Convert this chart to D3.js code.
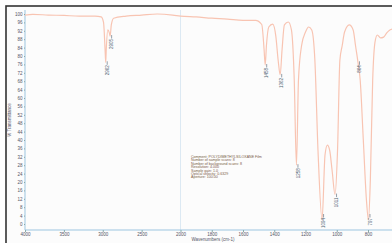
<!DOCTYPE html>
<html>
<head>
<meta charset="utf-8">
<script src="https://cdn.jsdelivr.net/npm/d3@7"></script>
<style>
	body { margin: 0; background: #fff; }
	svg { display: block; font-family: "Liberation Sans", Arial, sans-serif; }
</style>
</head>
<body>
<div id="chart"></div>
<script>
// spectrum (wavenumber cm-1, %T)
const wavenumbers = [4000, 3900, 3700, 3500, 3300, 3100, 3020, 2990, 2970, 2962, 2955, 2935, 2915, 2905, 2890, 2860, 2700, 2500, 2300, 2100, 2000,
	1900, 1800, 1700, 1600, 1520, 1480, 1465, 1458, 1450, 1435, 1410, 1390, 1375, 1362, 1350, 1335, 1310, 1290, 1272, 1258, 1245, 1225,
	1200, 1180, 1160, 1140, 1120, 1094, 1075, 1060, 1045, 1030, 1011, 995, 980, 965, 950, 920, 895, 880, 864, 850, 830, 810, 797, 785,
	770, 755, 740, 720, 700, 680, 660, 640];
const transmittance = [99.5, 99.8, 99.5, 99.3, 99, 99, 98.6, 96, 83, 77, 83, 92.4, 91, 89.5, 94.8, 98, 99, 99.5, 100, 99.5, 99,
	98.6, 98, 97.6, 97, 97, 95, 83, 75.7, 85, 93.8, 95.2, 89.5, 78, 71, 83, 94.8, 96.2, 92.4, 68.6, 28, 68.6, 85,
	91.4, 93.8, 92.4, 78, 35, 2, 33, 37.6, 35, 25.7, 14, 35, 78, 85, 91.4, 94.8, 92.4, 85, 77, 68.6, 40, 11.4, 2, 21,
	68.6, 86.7, 90, 88.6, 89, 91, 92.4, 92.9];

const peakLabels = [2962, 2905, 1458, 1362, 1258, 1094, 1011, 864, 797];
const xTicks = [4000, 3500, 3000, 2500, 2000, 1800, 1600, 1400, 1200, 1000, 800];
const yTicks = d3.range(0, 101, 4);
const infoLines = [
	"Comment: POLYDIMETHYLSILOXANE Film",
	"Number of sample scans:  8",
	"Number of background scans:  8",
	"Resolution:  4.000",
	"Sample gain:  1.0",
	"Optical velocity:  0.6329",
	"Aperture:  100.00"
];

const width = 392, height = 243;

const svg = d3.select("#chart").append("svg")
	.attr("width", width)
	.attr("height", height);

// outer frame (runs off the right and bottom of the crop)
svg.append("rect")
	.attr("x", 6).attr("y", 6)
	.attr("width", 400).attr("height", 250)
	.attr("fill", "#fcfcfc")
	.attr("stroke", "#333")
	.attr("stroke-width", 1.6);

// wavenumber axis expands below 2000
const x = d3.scaleLinear()
	.domain([4000, 2000, 640])
	.range([25, 180.5, 393]);

const y = d3.scaleLinear()
	.domain([0, 100])
	.range([224, 14]);

const axisY = 230;

// scale break line
svg.append("line")
	.attr("x1", x(2000)).attr("x2", x(2000))
	.attr("y1", 10).attr("y2", axisY)
	.attr("stroke", "#dce9f3")
	.attr("stroke-width", 1);

// axes
const gx = svg.append("g")
	.attr("transform", `translate(0,${axisY})`)
	.call(d3.axisBottom(x).tickValues(xTicks).tickSize(2).tickPadding(1).tickFormat(d3.format("d")));

const gy = svg.append("g")
	.attr("transform", `translate(${x(4000)},0)`)
	.call(d3.axisLeft(y).tickValues(yTicks).tickSize(1).tickPadding(1.5).tickFormat(d3.format("d")));

[gx, gy].forEach(g => {
	g.select(".domain").attr("stroke", "#9cc5e0").attr("stroke-width", 1);
	g.selectAll(".tick line").attr("stroke", "#8aa");
	g.selectAll(".tick text")
		.attr("fill", "#556")
		.style("font-size", "4.5px");
});
gx.select(".domain").attr("d", `M${x(4000)},0H${width}`);
gy.select(".domain").attr("d", `M0,10V${axisY}`);

svg.append("text")
	.attr("x", 213).attr("y", 240.5)
	.attr("text-anchor", "middle")
	.attr("fill", "#556")
	.style("font-size", "4.5px")
	.text("Wavenumbers (cm-1)");

svg.append("text")
	.attr("transform", "translate(11,120) rotate(-90)")
	.attr("text-anchor", "middle")
	.attr("fill", "#556")
	.style("font-size", "4.5px")
	.text("% Transmittance");

// spectrum
const points = wavenumbers.map((w, i) => ({ w, t: transmittance[i] }));

const line = d3.line()
	.x(d => x(d.w))
	.y(d => y(d.t))
	.curve(d3.curveMonotoneX);

svg.append("path")
	.datum(points)
	.attr("d", line)
	.attr("fill", "none")
	.attr("stroke", "#f8c4b2")
	.attr("stroke-width", 1.2)
	.attr("stroke-linejoin", "round");

// peak labels
const tAt = w => {
	const i = wavenumbers.indexOf(w);
	return i >= 0 ? transmittance[i] : 50;
};

const peaks = svg.append("g")
	.selectAll("g")
	.data(peakLabels)
	.enter()
	.append("g")
	.attr("transform", d => {
		const top = Math.min(y(tAt(d)) + 1, 216);
		return `translate(${x(d) + 1.5},${top})`;
	});

peaks.append("line")
	.attr("x1", 0).attr("x2", 0)
	.attr("y1", -2).attr("y2", 1.5)
	.attr("stroke", "#4f6272")
	.attr("stroke-width", 0.6);

peaks.append("text")
	.attr("transform", "translate(1.6,2) rotate(-90)")
	.attr("text-anchor", "end")
	.attr("fill", "#4f6272")
	.style("font-size", "4.5px")
	.text(d => d);

// collection info block
svg.append("g")
	.selectAll("text")
	.data(infoLines)
	.enter()
	.append("text")
	.attr("x", 191)
	.attr("y", (d, i) => 158 + i * 3.4)
	.attr("fill", "#7a5b45")
	.style("font-size", "3.6px")
	.text(d => d);
</script>
</body>
</html>
